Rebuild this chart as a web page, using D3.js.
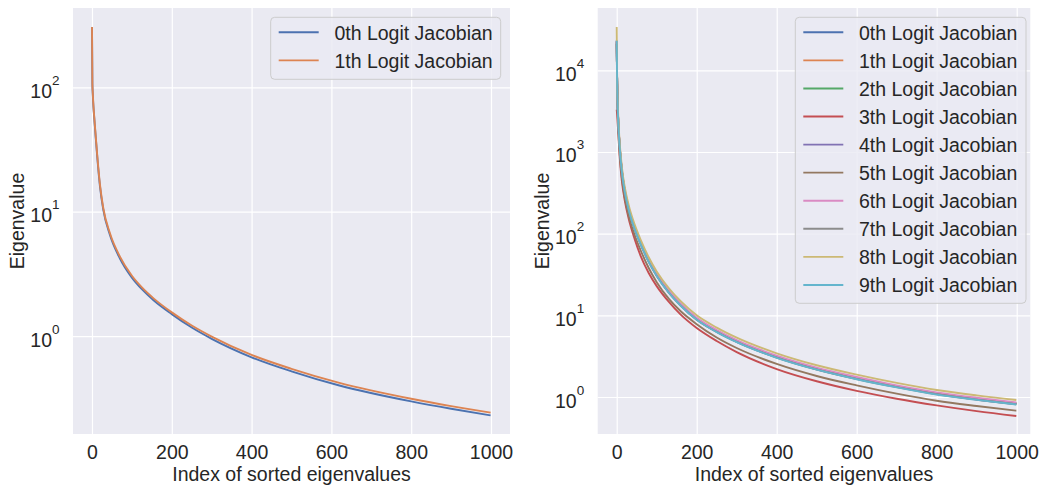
<!DOCTYPE html>
<html lang="en">
<head>
<meta charset="UTF-8">
<title>Eigenvalues</title>
<script src="https://cdn.jsdelivr.net/npm/d3@7"></script>
<style>
body{margin:0;background:#fff;}
text{font-family:"Liberation Sans",Arial,sans-serif;fill:#262626;}
</style>
</head>
<body>
<script>
// left panel: 2 logit jacobians
var leftIdx = [0,1,2,3,5,8,13,20,28,45,70,100,125,155,200,250,300,400,500,620,800,900,999];
var left0 = [305,105,88,75,60,45,28,16,10.5,6.5,4.2,2.95,2.38,1.93,1.5,1.17,0.95,0.675,0.52,0.40,0.298,0.26,0.23];
var left1 = [305,107,90,77,61.5,46,28.8,16.5,10.8,6.7,4.35,3.05,2.46,2.0,1.55,1.215,0.99,0.705,0.545,0.42,0.313,0.273,0.242];

// right panel: 10 logit jacobians
var rightIdx = [0,1,2,4,7,13,20,30,45,60,80,100,130,160,200,250,300,400,500,600,700,800,900,999];
var right0 = [23000,8100,4500,2340,1260,585,337,201,116,75.6,46.3,31.05,19.44,13.41,9.0,6.37,4.8,3.09,2.2,1.69,1.34,1.10,0.942,0.83];
var right1 = [22000,8190,4550,2370,1274,592,341,203,117.4,76.4,46.8,31.4,19.66,13.56,9.1,6.44,4.85,3.12,2.23,1.71,1.36,1.11,0.953,0.84];
var right2 = [21000,8150,4525,2350,1267,588,339,202,116.7,76.0,46.5,31.2,19.55,13.48,9.05,6.41,4.82,3.1,2.22,1.70,1.35,1.104,0.948,0.833];
var right3 = [3300,2900,2400,1700,930,440,258,152,85.7,53.1,33.0,22.8,14.7,10.2,7.0,4.85,3.55,2.2,1.56,1.19,0.953,0.79,0.672,0.585];
var right4 = [22000,8010,4450,2314,1246,578,334,198.5,114.8,74.8,45.7,30.7,19.2,13.26,8.9,6.3,4.74,3.05,2.18,1.67,1.33,1.086,0.932,0.82];
var right5 = [23000,6660,3700,1920,1036,481,278,165,95.5,62.2,38.0,25.5,16.0,11.2,7.8,5.35,3.98,2.54,1.81,1.39,1.10,0.90,0.775,0.68];
var right6 = [23000,8400,4680,2430,1310,608,351,208.5,120.6,78.5,48.1,32.3,20.2,13.9,9.35,6.62,4.98,3.21,2.29,1.76,1.39,1.14,0.979,0.86];
var right7 = [21000,7965,4425,2300,1239,575,332,197.4,114.2,74.3,45.5,30.5,19.1,13.2,8.85,6.27,4.72,3.04,2.17,1.66,1.32,1.08,0.927,0.814];
var right8 = [34000,9000,5000,2600,1400,650,375,223,129,84,51.4,34.5,21.6,14.9,10.0,7.08,5.33,3.43,2.45,1.88,1.49,1.22,1.047,0.92];
var right9 = [23000,7900,4400,2290,1230,572,330,196,113.5,73.9,45.2,30.4,19.0,13.1,8.8,6.23,4.69,3.02,2.16,1.65,1.31,1.07,0.921,0.81];

var leftNames = ["0th Logit Jacobian","1th Logit Jacobian"];
var rightNames = ["0th Logit Jacobian","1th Logit Jacobian","2th Logit Jacobian","3th Logit Jacobian","4th Logit Jacobian",
	"5th Logit Jacobian","6th Logit Jacobian","7th Logit Jacobian","8th Logit Jacobian","9th Logit Jacobian"];
var xTicks = [0,200,400,600,800,1000];
var leftYTicks = [1,10,100];
var rightYTicks = [1,10,100,1000,10000];
var colors = ["#4C72B0","#DD8452","#55A868","#C44E52","#8172B3","#937860","#DA8BC3","#8C8C8C","#CCB974","#64B5CD"];

var svg = d3.select("body").append("svg").attr("width",1040).attr("height",489);

function drawPanel(p){
	var x = d3.scaleLinear().domain(p.xDomain).range([p.left,p.right]);
	var y = d3.scaleLog().domain(p.yDomain).range([p.bottom,p.top]);
	var w = p.right - p.left, h = p.bottom - p.top;
	var g = svg.append("g");

	g.append("rect").attr("x",p.left).attr("y",p.top).attr("width",w).attr("height",h).attr("fill","#EAEAF2");

	// x grid + labels
	var xa = g.append("g").attr("transform","translate(0,"+p.bottom+")")
		.call(d3.axisBottom(x).tickValues(xTicks).tickSize(-h).tickPadding(11).tickFormat(d3.format("d")));
	xa.select(".domain").remove();
	xa.selectAll("line").attr("stroke","#fff").attr("stroke-width",1.2);
	xa.selectAll("text").attr("font-size","19.5px").attr("fill","#262626")
		.style("font-family","'Liberation Sans',Arial,sans-serif");

	// y grid + 10^n labels
	var ya = g.append("g").attr("transform","translate("+p.left+",0)")
		.call(d3.axisLeft(y).tickValues(p.yTicks).tickSize(-w).tickFormat(""));
	ya.select(".domain").remove();
	ya.selectAll("line").attr("stroke","#fff").attr("stroke-width",1.2);
	ya.selectAll(".tick").append("text").attr("x",-13.5).attr("y",10).attr("text-anchor","end")
		.attr("font-size","19.5px").attr("fill","#262626")
		.each(function(d){
			var t = d3.select(this);
			t.append("tspan").text("10");
			t.append("tspan").attr("font-size","13.5px").attr("dy",-13).text(Math.round(Math.log10(d)));
		});

	// lines
	var clipId = "clip"+p.left;
	g.append("clipPath").attr("id",clipId).append("rect")
		.attr("x",p.left).attr("y",p.top).attr("width",w).attr("height",h);
	var line = d3.line().x(function(d){return x(d[0]);}).y(function(d){return y(d[1]);}).curve(d3.curveMonotoneX);
	p.series.forEach(function(s,i){
		var pts = p.idx.map(function(v,k){return [v,s[k]];});
		g.append("path").attr("d",line(pts)).attr("fill","none").attr("stroke",colors[i])
			.attr("stroke-width",1.9).attr("clip-path","url(#"+clipId+")");
	});

	// axis titles
	g.append("text").attr("x",(p.left+p.right)/2).attr("y",480.5).attr("text-anchor","middle")
		.attr("font-size","19.5px").text("Index of sorted eigenvalues");
	g.append("text").attr("transform","translate("+p.ylabX+","+((p.top+p.bottom)/2)+") rotate(-90)")
		.attr("text-anchor","middle").attr("font-size","19.5px").text("Eigenvalue");

	// legend
	var L = p.legend;
	g.append("rect").attr("x",L.x).attr("y",L.y).attr("width",L.w).attr("height",L.h).attr("rx",4)
		.attr("fill","#EAEAF2").attr("fill-opacity",0.8).attr("stroke","#CCCCCC").attr("stroke-width",1);
	p.names.forEach(function(n,i){
		var ry = L.y + 15 + i*28.07;
		g.append("line").attr("x1",L.x+8).attr("x2",L.x+48).attr("y1",ry).attr("y2",ry)
			.attr("stroke",colors[i]).attr("stroke-width",1.9);
		g.append("text").attr("x",L.x+63.7).attr("y",ry+7.2).attr("font-size","19.5px").text(n);
	});
}

drawPanel({
	left:73, right:510, top:8, bottom:434,
	xDomain:[-47.6,1047.6], yDomain:[0.163,434.5], yTicks:leftYTicks,
	idx:leftIdx, series:[left0,left1], names:leftNames, ylabX:24,
	legend:{x:270.7,y:17.3,w:230,h:62}
});
drawPanel({
	left:597.7, right:1030.3, top:8, bottom:434,
	xDomain:[-47.5,1034], yDomain:[0.3524,57940], yTicks:rightYTicks,
	idx:rightIdx, series:[right0,right1,right2,right3,right4,right5,right6,right7,right8,right9], names:rightNames, ylabX:549,
	legend:{x:795.3,y:17.3,w:230.7,h:286}
});
</script>
</body>
</html>
